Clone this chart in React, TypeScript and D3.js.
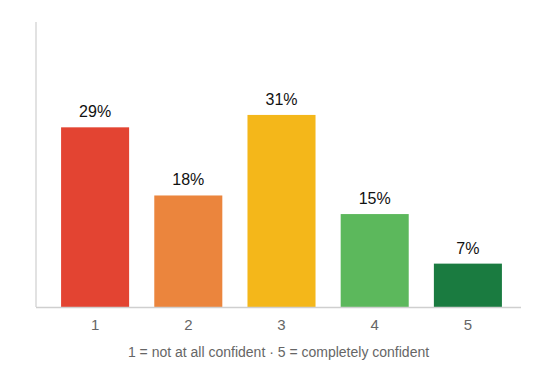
import React from "react";
import * as d3 from "d3";

const categories = ["1", "2", "3", "4", "5"];
const values = [29, 18, 31, 15, 7];
const colors = ["#E34432", "#EB853D", "#F4B71A", "#5CB85C", "#1A7B40"];
const caption = "1 = not at all confident · 5 = completely confident";

const W = 554;
const H = 382;
const left = 36;
const right = 521;
const top = 22;
const bottom = 307;

export default function App() {
  const x = d3
    .scaleBand<string>()
    .domain(categories)
    .range([48.5, 514.5])
    .paddingInner(0.27)
    .paddingOuter(0.135);
  const y = d3.scaleLinear().domain([0, 46]).range([bottom, top]);
  const font = "'Liberation Sans', Arial, sans-serif";
  return (
    <svg
      width={W}
      height={H}
      style={{ position: "absolute", left: 0, top: 0, background: "#fff" }}
    >
      {values.map((v, i) => (
        <g key={i}>
          <rect
            x={x(categories[i])}
            y={y(v)}
            width={x.bandwidth()}
            height={bottom - y(v)}
            fill={colors[i]}
          />
          <text
            x={(x(categories[i]) as number) + x.bandwidth() / 2}
            y={y(v) - 10}
            textAnchor="middle"
            fontFamily={font}
            fontSize={16}
            fill="#111"
          >
            {v}%
          </text>
          <text
            x={(x(categories[i]) as number) + x.bandwidth() / 2}
            y={330}
            textAnchor="middle"
            fontFamily={font}
            fontSize={15}
            fill="#666"
          >
            {categories[i]}
          </text>
        </g>
      ))}
      <line x1={left} x2={left} y1={top} y2={bottom} stroke="#d9d9d9" strokeWidth={1.5} />
      <line x1={left} x2={right} y1={bottom + 0.5} y2={bottom + 0.5} stroke="#cfcfcf" strokeWidth={1.5} />
      <text
        x={278.5}
        y={357}
        textAnchor="middle"
        fontFamily={font}
        fontSize={14}
        fill="#666"
      >
        {caption}
      </text>
    </svg>
  );
}
